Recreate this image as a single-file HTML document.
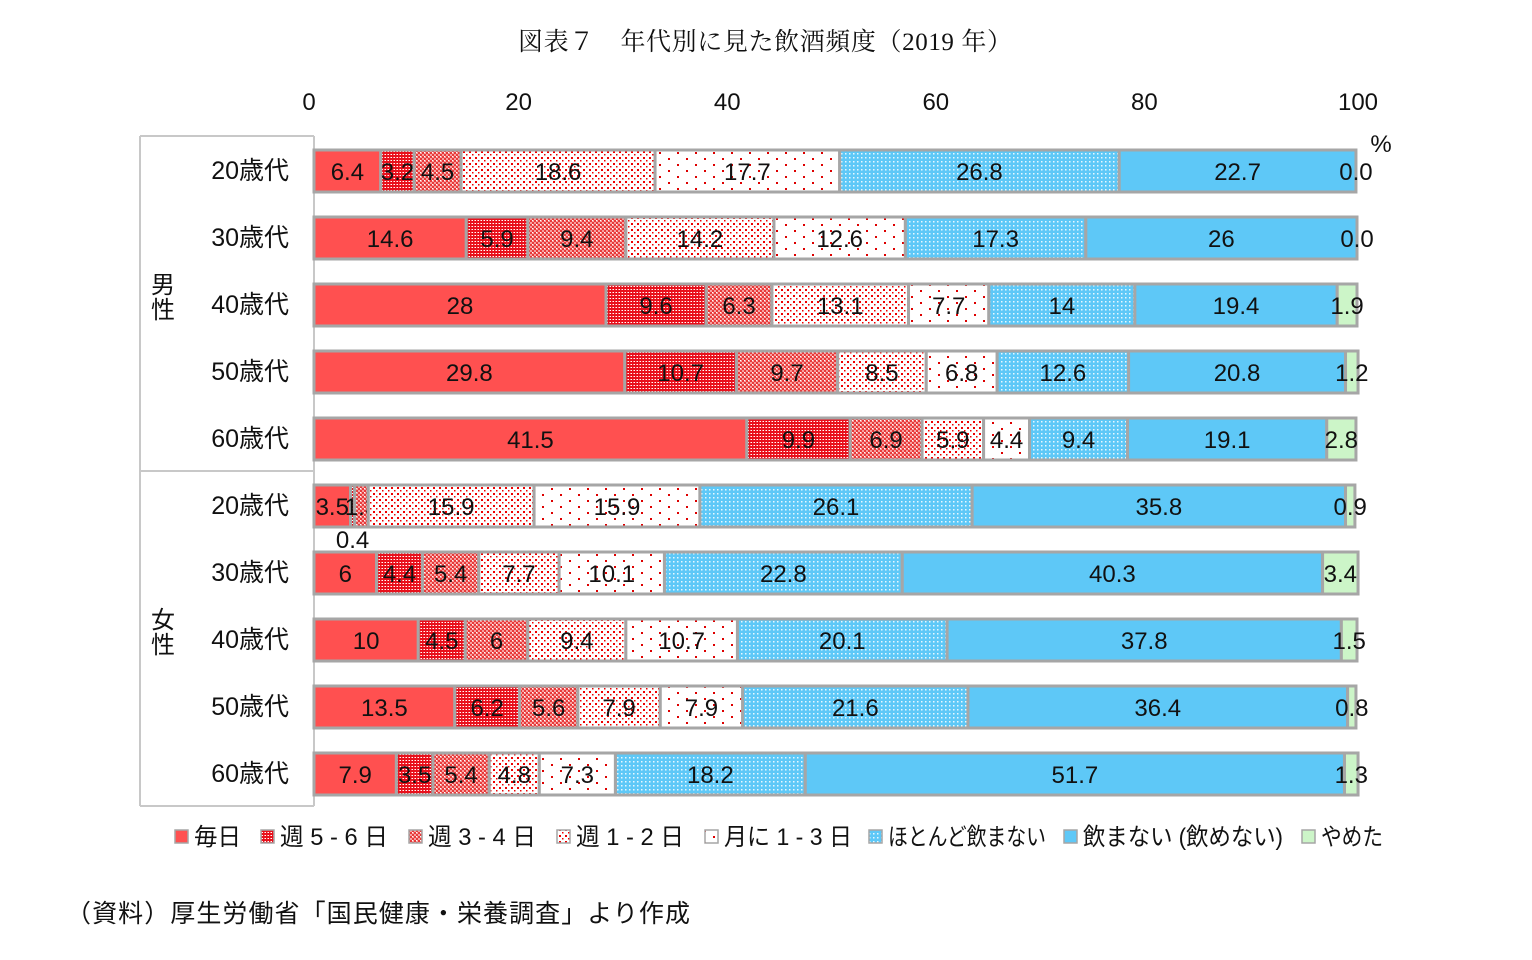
<!DOCTYPE html>
<html><head><meta charset="utf-8"><style>
body{margin:0;background:#fff;}
svg text{font-family:"Liberation Sans","Noto Sans CJK JP",sans-serif;fill:#111;}
</style></head><body>
<svg width="1532" height="955" viewBox="0 0 1532 955">
<defs>
<pattern id="p0" width="4" height="4" patternUnits="userSpaceOnUse"><rect width="4" height="4" fill="#ff5050"/></pattern>
<pattern id="p1" width="3" height="3" patternUnits="userSpaceOnUse"><rect width="3" height="3" fill="#e8101c"/><rect x="1" y="1" width="1" height="1" fill="#fff"/><rect x="0" y="1" width="1" height="1" fill="#f88"/></pattern>
<pattern id="p2" width="4" height="4" patternUnits="userSpaceOnUse"><rect width="4" height="4" fill="#e83a3a"/><rect x="0" y="0" width="2" height="2" fill="#f7a0a0"/><rect x="2" y="2" width="2" height="2" fill="#f7a0a0"/><rect x="0" y="0" width="1" height="1" fill="#fff"/></pattern>
<pattern id="p3" width="6" height="6" patternUnits="userSpaceOnUse"><rect width="6" height="6" fill="#fff"/><rect x="1" y="1" width="2" height="2" fill="#e00"/><rect x="4" y="4" width="1.5" height="1.5" fill="#e00"/></pattern>
<pattern id="p4" width="18" height="12" patternUnits="userSpaceOnUse"><rect width="18" height="12" fill="#fff"/><rect x="2" y="2" width="2" height="2" fill="#d00"/><rect x="11" y="8" width="2" height="2" fill="#d00"/></pattern>
<pattern id="p5" width="4" height="4" patternUnits="userSpaceOnUse"><rect width="4" height="4" fill="#5ec8f7"/><rect x="1" y="1" width="1.5" height="1.5" fill="#e8f8ff"/></pattern>
<pattern id="p6" width="4" height="4" patternUnits="userSpaceOnUse"><rect width="4" height="4" fill="#5ec8f7"/></pattern>
<pattern id="p7" width="4" height="4" patternUnits="userSpaceOnUse"><rect width="4" height="4" fill="#ccf5c8"/></pattern>
</defs>
<text x="765" y="50" text-anchor="middle" font-size="25" textLength="494" style="font-family:'Liberation Serif','Noto Serif CJK SC',serif">図表７　年代別に見た飲酒頻度（2019 年）</text>
<g id="ticks"></g>
<text x="1381" y="152" text-anchor="middle" font-size="24">%</text>
<g id="frame" stroke="#c8c8c8" stroke-width="2" fill="none">
<line x1="140" y1="136" x2="314" y2="136"/><line x1="140" y1="471" x2="314" y2="471"/><line x1="140" y1="806" x2="314" y2="806"/>
<line x1="140" y1="136" x2="140" y2="806"/><line x1="314" y1="136" x2="314" y2="806"/>
</g>
<text x="163" y="293" text-anchor="middle" font-size="24"><tspan x="163" dy="0">男</tspan><tspan x="163" dy="25">性</tspan></text>
<text x="163" y="628" text-anchor="middle" font-size="24"><tspan x="163" dy="0">女</tspan><tspan x="163" dy="25">性</tspan></text>
<g id="bars"></g>
<g id="legend"></g>
<text x="66" y="922" font-size="25" textLength="624">（資料）厚生労働省「国民健康・栄養調査」より作成</text>
</svg>
<script>
const categories = ["20歳代","30歳代","40歳代","50歳代","60歳代","20歳代","30歳代","40歳代","50歳代","60歳代"];
const seriesNames = ["毎日","週 5 - 6 日","週 3 - 4 日","週 1 - 2 日","月に 1 - 3 日","ほとんど飲まない","飲まない (飲めない)","やめた"];
const s0 = [6.4,14.6,28,29.8,41.5,3.5,6,10,13.5,7.9];
const s1 = [3.2,5.9,9.6,10.7,9.9,0.4,4.4,4.5,6.2,3.5];
const s2 = [4.5,9.4,6.3,9.7,6.9,1.3,5.4,6,5.6,5.4];
const s3 = [18.6,14.2,13.1,8.5,5.9,15.9,7.7,9.4,7.9,4.8];
const s4 = [17.7,12.6,7.7,6.8,4.4,15.9,10.1,10.7,7.9,7.3];
const s5 = [26.8,17.3,14,12.6,9.4,26.1,22.8,20.1,21.6,18.2];
const s6 = [22.7,26,19.4,20.8,19.1,35.8,40.3,37.8,36.4,51.7];
const s7 = [0.0,0.0,1.9,1.2,2.8,0.9,3.4,1.5,0.8,1.3];
const ticks = [0,20,40,60,80,100];
const series = [s0,s1,s2,s3,s4,s5,s6,s7];
const NS="http://www.w3.org/2000/svg";
const xs = v => 314 + v*10.43;
const yc = i => 171 + i*67;
function mk(t,a,p){const e=document.createElementNS(NS,t);for(const k in a)e.setAttribute(k,a[k]);p.appendChild(e);return e;}
const tg=document.getElementById('ticks');
ticks.forEach(t=>{const e=mk('text',{x:xs(t)-(t===0?5:t===100?-1:4),y:110,'text-anchor':'middle','font-size':24},tg);e.textContent=t;

});
const bg=document.getElementById('bars');
categories.forEach((c,i)=>{
  const lab=mk('text',{x:289,y:yc(i)+8,'text-anchor':'end','font-size':25},bg);lab.textContent=c;
  
  
  let cum=0;
  series.forEach((s,j)=>{
    const v=s[i];const x0=xs(cum),x1=xs(cum+v);
    const r=mk('rect',{x:x0,y:yc(i)-21,width:Math.max(x1-x0,0),height:42,fill:'url(#p'+j+')',stroke:'#a6a6a6','stroke-width':3},bg);
    
    
    const above = v>0 && v<1 && j<7;
    const t=mk('text',{x:(x0+x1)/2,y:above?yc(i)+42:yc(i)+9,'text-anchor':'middle','font-size':24},bg);
    t.textContent=v.toFixed(v===0?1:(Number.isInteger(v)?0:1));
    
    
    cum+=v;
  });
});
const lg=document.getElementById('legend');
const lx=[175,261,409,557,705,869,1064,1302];
const lw=[47,108,108,108,128,158,200,62];
seriesNames.forEach((n,j)=>{
  const r=mk('rect',{x:lx[j],y:830,width:13,height:13,fill:'url(#p'+j+')',stroke:'#a6a6a6','stroke-width':1.5},lg);
  
  
  const t=mk('text',{x:lx[j]+19,y:845,'font-size':24,textLength:lw[j],lengthAdjust:'spacingAndGlyphs'},lg);t.textContent=n;
  
  
});
</script>
</body></html>
